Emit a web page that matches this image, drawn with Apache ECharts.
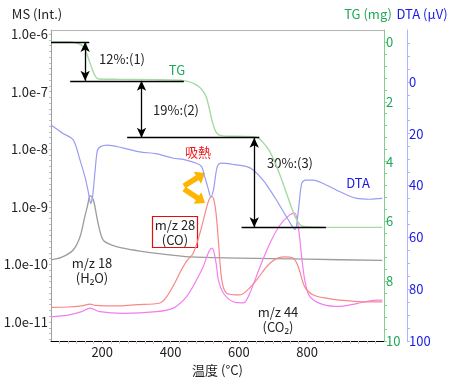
<!DOCTYPE html>
<html><head><meta charset="utf-8">
<script src="https://cdn.jsdelivr.net/npm/echarts@6/dist/echarts.min.js"></script>
<style>html,body{margin:0;padding:0;background:#fff}#c{width:456px;height:385px}</style>
</head><body><div id="c"></div>
<script>
const FONT = '"Noto Sans CJK JP","Noto Sans",sans-serif';

// tick labels
const xTicks = [200, 400, 600, 800];            // 温度 (°C)
const msTicks = [-11, -10, -9, -8, -7, -6];      // MS exponents (1.0e-N)
const tgTicks = [0, 2, 4, 6, 8, 10];             // TG (mg)
const dtaTicks = [0, 20, 40, 60, 80, 100];       // DTA (μV)

// TG curve (mg)
const tgT  = [50, 100, 130, 145, 155, 164, 172, 180, 190, 250, 350, 430, 450, 470, 486, 497, 505, 515, 522, 530, 540, 560, 620, 655, 670, 690, 710, 730, 750, 765, 780, 795, 850, 1020];
const tgMg = [0, 0, 0.05, 0.16, 0.4, 0.7, 0.95, 1.15, 1.24, 1.25, 1.26, 1.28, 1.32, 1.4, 1.52, 1.68, 1.85, 2.3, 2.65, 2.94, 3.1, 3.15, 3.16, 3.2, 3.35, 3.65, 4.15, 4.75, 5.4, 5.85, 6.12, 6.18, 6.2, 6.2];

// DTA curve (μV)
const dtaT  = [50, 85, 115, 135, 150, 160, 166, 172, 180, 186, 195, 215, 260, 310, 360, 408, 440, 476, 491, 500, 510, 518, 526, 532, 538, 548, 580, 623, 642, 671, 690, 710, 739, 755, 765, 774, 784, 795, 818, 847, 896, 945, 984, 1020];
const dtaUV = [16.7, 19.9, 22.4, 30.2, 37, 43, 46.9, 44, 33, 26.5, 25, 24.4, 25.5, 27, 27.8, 29.5, 30, 31.4, 32.7, 36.6, 41.1, 44.5, 41.5, 36, 32.3, 31.4, 31.8, 32.7, 34, 37.9, 41.5, 45.6, 52, 55.5, 57, 50, 39.2, 37.9, 37.9, 39.2, 42.4, 45, 45.3, 45];

// MS m/z 18 (H2O)
const h2oT = [50, 80, 115, 135, 149, 158, 164, 170, 176, 188, 203, 230, 262, 310, 359, 457, 600, 800, 1020];
const h2oI = [1.20e-10, 1.32e-10, 1.78e-10, 3.02e-10, 6.76e-10, 1.12e-9, 1.55e-9, 1.48e-9, 1.20e-9, 5.13e-10, 2.63e-10, 2.14e-10, 1.91e-10, 1.70e-10, 1.55e-10, 1.35e-10, 1.29e-10, 1.23e-10, 1.17e-10];

// MS m/z 28 (CO)
const coT = [50, 100, 140, 164, 180, 250, 300, 369, 389, 410, 427, 446, 466, 486, 506, 514, 520, 526, 533, 540, 550, 564, 603, 630, 652, 691, 730, 759, 774, 793, 818, 860, 896, 960, 1020];
const coI = [1.80e-11, 1.82e-11, 1.91e-11, 2.04e-11, 1.95e-11, 1.91e-11, 2.00e-11, 2.14e-11, 2.75e-11, 4.47e-11, 7.08e-11, 1.12e-10, 1.55e-10, 3.47e-10, 1.00e-9, 1.38e-9, 1.51e-9, 1.38e-9, 7.94e-10, 2.63e-10, 5.37e-11, 3.16e-11, 2.95e-11, 3.80e-11, 5.37e-11, 1.05e-10, 1.35e-10, 1.29e-10, 9.12e-11, 4.07e-11, 2.95e-11, 2.57e-11, 2.40e-11, 2.24e-11, 2.24e-11];

// MS m/z 44 (CO2)
const co2T = [50, 100, 140, 164, 193, 262, 359, 408, 447, 476, 495, 506, 514, 520, 526, 534, 540, 555, 584, 613, 632, 662, 691, 720, 749, 764, 774, 784, 793, 808, 847, 896, 945, 1003, 1020];
const co2I = [1.23e-11, 1.32e-11, 1.51e-11, 1.74e-11, 1.51e-11, 1.41e-11, 1.51e-11, 1.74e-11, 2.75e-11, 5.37e-11, 8.91e-11, 1.35e-10, 1.74e-10, 1.91e-10, 1.74e-10, 1.00e-10, 5.37e-11, 3.16e-11, 2.24e-11, 2.14e-11, 3.16e-11, 9.12e-11, 2.34e-10, 4.79e-10, 7.24e-10, 7.76e-10, 4.47e-10, 1.35e-10, 5.37e-11, 2.75e-11, 2.00e-11, 1.86e-11, 2.09e-11, 2.40e-11, 2.40e-11];

// mass-loss step levels (mg) and annotation positions (°C)
const stepLines = [[50, 162, 0], [106, 439, 1.3], [273, 660, 3.2], [608, 855, 6.2]];
const stepArrows = [[150, 0, 1.3], [315, 1.3, 3.2], [645, 3.2, 6.2]];

function range(a, b, s) { const r = []; for (let v = a; v <= b + 1e-9; v += s) r.push(+v.toFixed(3)); return r; }
const pair = (xs, ys, f) => xs.map((x, i) => [x, f ? f(ys[i]) : ys[i]]);

const chart = echarts.init(document.getElementById('c'), null, { renderer: 'canvas' });

const mlData = [];
stepLines.forEach(s => mlData.push([{ coord: [s[0], s[2]] }, { coord: [s[1], s[2]] }]));
stepArrows.forEach(a => mlData.push([
  { coord: [a[0], a[1]], symbol: 'arrow', symbolSize: [7, 10] },
  { coord: [a[0], a[2]], symbol: 'arrow', symbolSize: [7, 10] }
]));

function arrowGraphic(x1, y1, x2, y2, color) {
  const dx = x2 - x1, dy = y2 - y1, L = Math.hypot(dx, dy);
  const ux = dx / L, uy = dy / L, px = -uy, py = ux;
  const hl = 9, hw = 7;
  const bx = x2 - ux * hl, by = y2 - uy * hl;
  return [
    { type: 'line', shape: { x1: x1, y1: y1, x2: bx + ux, y2: by + uy }, style: { stroke: color, lineWidth: 5.5 }, silent: true },
    { type: 'polygon', shape: { points: [[x2, y2], [bx + px * hw, by + py * hw], [bx - px * hw, by - py * hw]] }, style: { fill: color }, silent: true }
  ];
}

const txt = (x, y, text, color, size) => ({
  type: 'text', x: x, y: y, silent: true,
  style: { text: text, fill: color || '#222', font: (size || 13) + 'px ' + FONT, align: 'center', verticalAlign: 'middle' }
});

const option = {
  animation: false,
  backgroundColor: '#fff',
  textStyle: { fontFamily: FONT },
  grid: { left: 51, right: 72, top: 30, bottom: 44 },
  xAxis: [{
    type: 'value', min: 50, max: 1025, position: 'bottom',
    axisLine: { show: true, onZero: false, lineStyle: { color: '#000', width: 1 } },
    axisTick: { show: true, customValues: range(75, 1000, 25), length: 3, lineStyle: { color: '#f3c0c0' } },
    axisLabel: { customValues: xTicks, color: '#222', fontSize: 13, margin: 5, fontFamily: FONT },
    splitLine: { show: false },
    name: '温度 (°C)', nameLocation: 'middle', nameGap: 21,
    nameTextStyle: { color: '#222', fontSize: 13, fontFamily: FONT }
  }, {
    type: 'value', min: 50, max: 1025, position: 'top',
    axisLine: { show: true, onZero: false, lineStyle: { color: '#b4b4b4' } },
    axisTick: { show: false }, axisLabel: { show: false }, splitLine: { show: false }
  }],
  yAxis: [{
    type: 'value', min: -11.33, max: -5.93, position: 'left',
    axisLine: { show: true, onZero: false, lineStyle: { color: '#a0a0a0' } },
    axisTick: { show: true, customValues: range(-11.3, -6, 0.1), length: 2, lineStyle: { color: '#bdbdbd' } },
    axisLabel: { customValues: msTicks, formatter: v => '1.0e' + Math.round(v), color: '#222', fontSize: 13, margin: 3, fontFamily: FONT },
    splitLine: { show: false }
  }, {
    type: 'value', inverse: true, min: -0.4, max: 10, position: 'right', offset: 0,
    axisLine: { show: true, onZero: false, lineStyle: { color: '#80cf8c' } },
    axisTick: { show: true, customValues: range(0, 10, 0.4), length: 3, lineStyle: { color: '#80cf8c' } },
    axisLabel: { customValues: tgTicks, color: '#1fa858', fontSize: 13, margin: 2, fontFamily: FONT },
    splitLine: { show: false }
  }, {
    type: 'value', inverse: true, min: -20, max: 100, position: 'right', offset: 23,
    axisLine: { show: true, onZero: false, lineStyle: { color: '#b0b4ff' } },
    axisTick: { show: true, customValues: range(-15, 100, 5), length: 3, lineStyle: { color: '#b0b4ff' } },
    axisLabel: { customValues: dtaTicks, color: '#1a1ae6', fontSize: 13, margin: 2, fontFamily: FONT },
    splitLine: { show: false }
  }],
  series: [
    { name: 'm/z 18', type: 'line', xAxisIndex: 0, yAxisIndex: 0, data: pair(h2oT, h2oI, Math.log10),
      showSymbol: false, smooth: 0.3, silent: true, lineStyle: { color: '#9c9c9c', width: 1.3 }, z: 2 },
    { name: 'm/z 44', type: 'line', xAxisIndex: 0, yAxisIndex: 0, data: pair(co2T, co2I, Math.log10),
      showSymbol: false, smooth: 0.3, silent: true, lineStyle: { color: '#f47df0', width: 1.2 }, z: 2 },
    { name: 'm/z 28', type: 'line', xAxisIndex: 0, yAxisIndex: 0, data: pair(coT, coI, Math.log10),
      showSymbol: false, smooth: 0.3, silent: true, lineStyle: { color: '#f88888', width: 1.2 }, z: 3 },
    { name: 'DTA', type: 'line', xAxisIndex: 0, yAxisIndex: 2, data: pair(dtaT, dtaUV),
      showSymbol: false, smooth: 0.3, silent: true, lineStyle: { color: '#9a9cf0', width: 1.2 }, z: 3 },
    { name: 'TG', type: 'line', xAxisIndex: 0, yAxisIndex: 1, data: pair(tgT, tgMg),
      showSymbol: false, smooth: 0.3, silent: true, lineStyle: { color: '#a6d9a4', width: 1.4 }, z: 3,
      markLine: { silent: true, symbol: ['none', 'none'], animation: false, label: { show: false },
        lineStyle: { color: '#000', width: 1.3, type: 'solid' }, emphasis: { disabled: true }, data: mlData } }
  ],
  graphic: [
    txt(37, 14, 'MS (Int.)', '#222', 13),
    txt(368, 14, 'TG (mg)', '#1fa858', 13),
    txt(422, 14, 'DTA (μV)', '#1a1ae6', 13),
    txt(122, 59, '12%:(1)', '#222', 13),
    txt(177, 70, 'TG', '#1fa858', 13),
    txt(176, 110, '19%:(2)', '#222', 13),
    txt(198, 152, '吸熱', '#ee1c1c', 13),
    txt(290, 163, '30%:(3)', '#222', 13),
    txt(358, 183, 'DTA', '#1a1ae6', 13),
    { type: 'rect', shape: { x: 152.5, y: 216.5, width: 45, height: 31 }, style: { fill: 'none', stroke: '#e01010', lineWidth: 1.2 }, silent: true },
    txt(175, 225, 'm/z 28', '#222', 13),
    txt(175, 240, '(CO)', '#222', 13),
    txt(92, 263, 'm/z 18', '#222', 13),
    txt(92, 278, '(H₂O)', '#222', 13),
    txt(278, 312, 'm/z 44', '#222', 13),
    txt(278, 327, '(CO₂)', '#222', 13),
    ...arrowGraphic(184, 186, 205, 173, '#ffb400'),
    ...arrowGraphic(184, 189, 205, 203, '#ffb400')
  ]
};
chart.setOption(option);
</script></body></html>
